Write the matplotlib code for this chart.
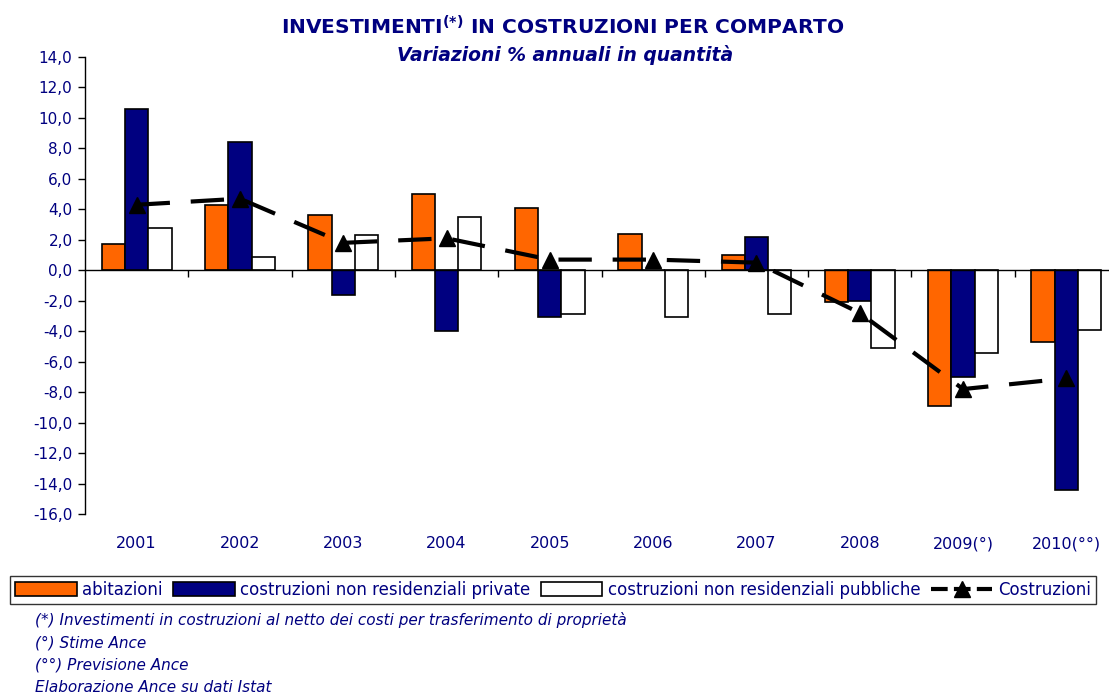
import matplotlib
matplotlib.use("Agg")
import matplotlib.pyplot as plt
import matplotlib.transforms as mtransforms
from matplotlib.lines import Line2D
from matplotlib.patches import Patch
import numpy as np

years = ["2001", "2002", "2003", "2004", "2005", "2006", "2007", "2008", "2009(°)", "2010(°°)"]
abitazioni = [1.7, 4.3, 3.6, 5.0, 4.1, 2.4, 1.0, -2.1, -8.9, -4.7]
non_res_private = [10.6, 8.4, -1.6, -4.0, -3.1, 0.0, 2.2, -2.0, -7.0, -14.4]
non_res_pubbliche = [2.8, 0.9, 2.3, 3.5, -2.9, -3.1, -2.9, -5.1, -5.4, -3.9]
costruzioni = [4.3, 4.7, 1.8, 2.1, 0.7, 0.7, 0.5, -2.8, -7.8, -7.1]
yticks = np.arange(-16, 14.01, 2)

NAVY = "#000080"
ORANGE = "#FF6600"
W, H = 1109, 698
fig = plt.figure(figsize=(W / 100, H / 100), dpi=100)
ax = fig.add_axes([85 / W, 1 - 514 / H, (1118 - 85) / W, (514 - 57) / H])

x = np.arange(len(years))
bw = 0.225
ax.bar(x - bw, abitazioni, bw, color=ORANGE, edgecolor="black", linewidth=1.2, zorder=2)
ax.bar(x, non_res_private, bw, color=NAVY, edgecolor="black", linewidth=1.2, zorder=2)
ax.bar(x + bw, non_res_pubbliche, bw, color="white", edgecolor="black", linewidth=1.2, zorder=2)
ax.plot(x, costruzioni, color="black", linewidth=3, dashes=(8, 5), marker="^",
        markersize=12, zorder=3)

ax.set_xlim(-0.5, len(years) - 0.5)
ax.set_ylim(-16, 14)
ax.set_yticks(yticks)
ax.set_yticklabels([f"{v:.1f}".replace(".", ",") for v in yticks], color=NAVY, fontsize=11)
ax.tick_params(axis="y", direction="out", length=5, width=1, pad=4)

for s in ["top", "right"]:
    ax.spines[s].set_visible(False)
ax.spines["bottom"].set_position(("data", 0))
ax.spines["left"].set_linewidth(1)
ax.spines["bottom"].set_linewidth(1)
ax.set_xticks(np.arange(0.5, len(years) - 0.5, 1))
ax.set_xticklabels([])
ax.tick_params(axis="x", direction="out", length=5, width=1)

trans = mtransforms.blended_transform_factory(ax.transData, ax.transAxes)
for i, lab in enumerate(years):
    ax.text(i, -0.065, lab, transform=trans, ha="center", va="center",
            color=NAVY, fontsize=11.5)

fig.text(563 / W, 1 - 27 / H,
         r"INVESTIMENTI$^{\mathbf{(*)}}$ IN COSTRUZIONI PER COMPARTO",
         ha="center", va="center", color=NAVY, fontsize=14.5, fontweight="bold")
fig.text(565 / W, 1 - 55 / H, "Variazioni % annuali in quantità",
         ha="center", va="center", color=NAVY, fontsize=13.5, fontweight="bold",
         style="italic")

handles = [
    Patch(facecolor=ORANGE, edgecolor="black", linewidth=1.2),
    Patch(facecolor=NAVY, edgecolor="black", linewidth=1.2),
    Patch(facecolor="white", edgecolor="black", linewidth=1.2),
    Line2D([], [], color="black", linewidth=3, dashes=(4, 1.5), marker="^", markersize=11),
]
labels = ["abitazioni", "costruzioni non residenziali private",
          "costruzioni non residenziali pubbliche", "Costruzioni"]
leg = fig.legend(handles, labels, loc="center", bbox_to_anchor=(553 / W, 1 - 590 / H),
                 ncol=4, frameon=True, fancybox=False, edgecolor="black",
                 fontsize=12, handlelength=3.7, handleheight=0.9, handletextpad=0.35,
                 columnspacing=0.6, borderpad=0.3, borderaxespad=0, labelcolor=NAVY)
leg.get_frame().set_linewidth(1)

notes = ["(*) Investimenti in costruzioni al netto dei costi per trasferimento di proprietà",
         "(°) Stime Ance", "(°°) Previsione Ance", "Elaborazione Ance su dati Istat"]
for k, n in enumerate(notes):
    fig.text(35 / W, 1 - (620 + 22.5 * k) / H, n, ha="left", va="center",
             color=NAVY, fontsize=11, style="italic")

fig.savefig("out.png", dpi=100)
